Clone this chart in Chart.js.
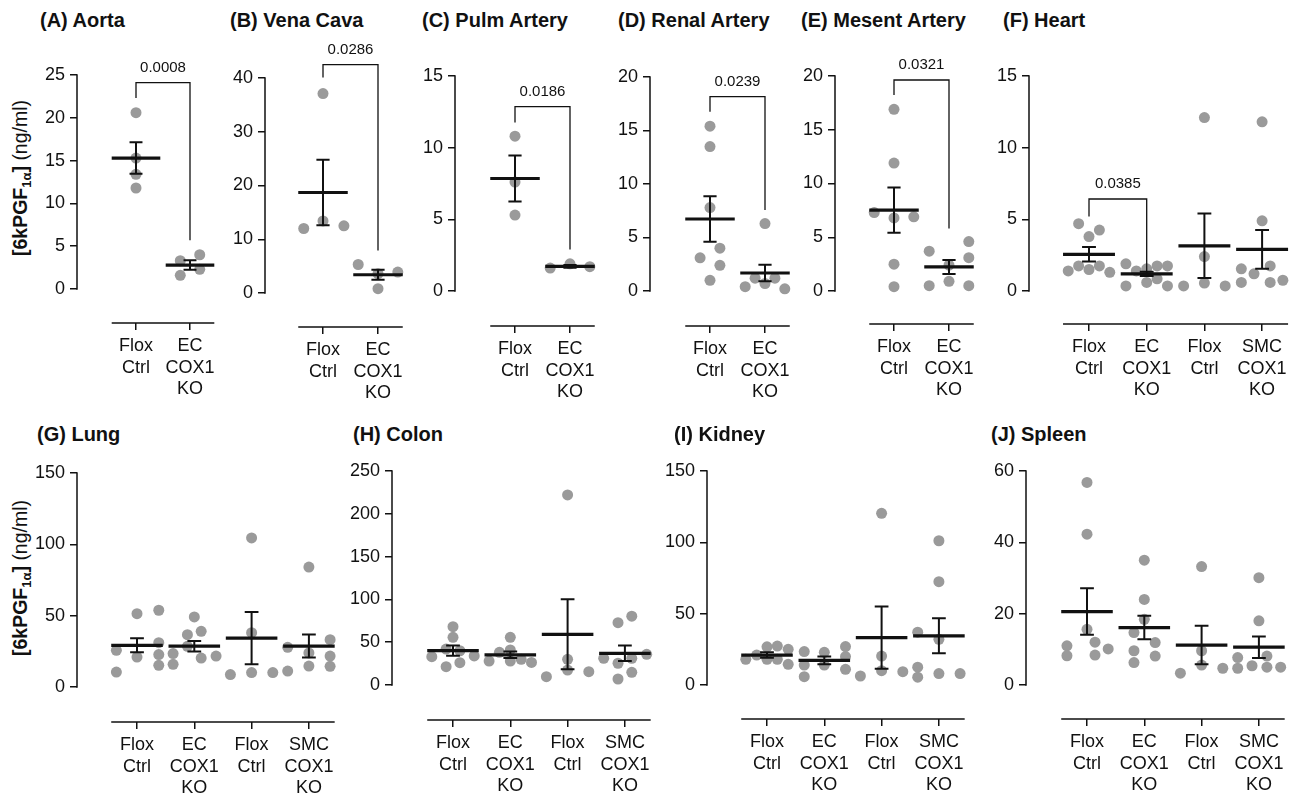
<!DOCTYPE html>
<html>
<head>
<meta charset="utf-8">
<script src="https://cdn.jsdelivr.net/npm/chart.js@4.4.0/dist/chart.umd.min.js"></script>
<style>
  body { margin: 0; width: 1294px; height: 796px; overflow: hidden; background: #fff; position: relative;
         font-family: "Liberation Sans", Arial, sans-serif; color: #111; }
  canvas { position: absolute; }
  .title { position: absolute; font-weight: bold; font-size: 20px; line-height: 1; white-space: nowrap; }
  .ylab { position: absolute; font-size: 19.5px; white-space: nowrap; line-height: 1;
          transform: translate(-50%, -50%) rotate(-90deg); }
  .ylab sub { font-size: 13px; vertical-align: -4px; }
</style>
</head>
<body>
<div class="ylab" style="left:22px;top:178px"><b>[6kPGF<sub>1α</sub>]</b> (ng/ml)</div>
<div class="ylab" style="left:22px;top:578px"><b>[6kPGF<sub>1α</sub>]</b> (ng/ml)</div>

<script>
// ---- group labels ----
const twoGroups = [["Flox", "Ctrl"], ["EC", "COX1", "KO"]];
const fourGroups = [["Flox", "Ctrl"], ["EC", "COX1", "KO"], ["Flox", "Ctrl"], ["SMC", "COX1", "KO"]];

// ---- (A) Aorta ----
const aortaValues = [[20.6, 15.3, 13.4, 11.8], [3.3, 4.0, 1.6, 2.3]];
const aortaJitter = [[0, 0, 0, 0], [-0.18, 0.18, -0.18, 0.18]];
const aortaMeans = [15.3, 2.8];
const aortaSems = [1.85, 0.55];
const aortaBracket = [0, 1, 24.1, 22.3, 5.7, "0.0008"];

// ---- (B) Vena Cava ----
const venaValues = [[37.1, 13.4, 12.0, 12.5], [5.3, 3.6, 0.8, 3.9]];
const venaJitter = [[0, 0, -0.35, 0.38], [-0.36, 0, 0, 0.36]];
const venaMeans = [18.7, 3.4];
const venaSems = [6.1, 0.93];
const venaBracket = [0, 1, 42.5, 40.1, 7.9, "0.0286"];

// ---- (C) Pulm Artery ----
const pulmValues = [[10.8, 7.6, 5.3], [1.6, 1.9, 1.7]];
const pulmJitter = [[0, 0, 0], [-0.36, 0, 0.36]];
const pulmMeans = [7.85, 1.72];
const pulmSems = [1.6, 0.1];
const pulmBracket = [0, 1, 12.86, 11.75, 2.9, "0.0186"];

// ---- (D) Renal Artery ----
const renalValues = [[15.4, 13.5, 7.8, 4.0, 3.1, 2.4, 1.0], [6.3, 0.4, 1.2, 0.7, 1.2, 0.2]];
const renalJitter = [[0, 0, 0, 0.18, -0.18, 0.18, 0], [0, -0.36, -0.18, 0, 0.18, 0.36]];
const renalMeans = [6.73, 1.68];
const renalSems = [2.13, 0.78];
const renalBracket = [0, 1, 18.16, 16.76, 7.57, "0.0239"];

// ---- (E) Mesent Artery ----
const mesValues = [[16.9, 11.9, 7.3, 6.8, 6.9, 2.5, 0.4], [3.7, 4.6, 3.1, 2.4, 0.5, 0.9, 0.5]];
const mesJitter = [[0, 0, -0.36, 0, 0.36, 0, 0], [-0.36, 0.36, 0.36, 0, -0.36, 0, 0.36]];
const mesMeans = [7.52, 2.24];
const mesSems = [2.1, 0.65];
const mesBracket = [0, 1, 19.63, 18.23, 5.81, "0.0321"];

// ---- (F) Heart ----
const heartValues = [
  [4.7, 4.25, 3.8, 1.4, 1.75, 1.5, 1.75, 1.3],
  [1.9, 1.4, 1.55, 1.75, 1.75, 0.35, 0.6, 0.85, 0.35],
  [12.1, 2.4, 0.35, 0.55, 0.35],
  [11.8, 4.9, 1.55, 1.75, 1.2, 0.6, 0.6, 0.75]
];
const heartJitter = [
  [-0.18, 0.18, 0, -0.36, -0.18, 0, 0.18, 0.36],
  [-0.36, -0.18, 0, 0.18, 0.36, -0.36, 0, 0.18, 0.36],
  [0, 0, -0.36, 0, 0.36],
  [0, 0, -0.36, 0.14, -0.14, -0.36, 0.14, 0.36]
];
const heartMeans = [2.56, 1.2, 3.15, 2.9];
const heartSems = [0.51, 0.15, 2.25, 1.35];
const heartBracket = [0, 1, 6.42, 5.19, 1.35, "0.0385"];

// ---- (G) Lung ----
const lungValues = [
  [25.7, 10.5, 51.4, 21.0, 53.8, 31.1, 22.7, 15.2],
  [23.4, 15.9, 49.1, 36.7, 39.0, 28.5, 20.3, 21.7],
  [104.5, 38.1, 8.7, 10.1, 10.1],
  [84.1, 27.8, 11.2, 23.9, 14.7, 33.2, 21.7, 14.5]
];
const lungJitter = [
  [-0.36, -0.36, 0, 0, 0.38, 0.38, 0.38, 0.38],
  [-0.37, -0.37, 0, -0.12, 0.12, -0.12, 0.12, 0.38],
  [0, 0, -0.37, 0, 0.37],
  [0, -0.37, -0.37, 0, 0, 0.37, 0.37, 0.37]
];
const lungMeans = [29.2, 28.6, 34.3, 28.7];
const lungSems = [4.9, 3.7, 18.3, 8.1];

// ---- (H) Colon ----
const colonValues = [
  [68.1, 55.7, 42, 40, 33.1, 21.4, 26.1, 33.9],
  [55.7, 28, 38.2, 41, 28, 30, 26.4],
  [222, 30, 17.5, 9.7, 15.5],
  [72.8, 80.4, 31.2, 25.4, 31.2, 35.9, 7, 14.8]
];
const colonJitter = [
  [0, 0, -0.12, 0.12, -0.37, -0.12, 0.12, 0.37],
  [0, -0.37, -0.19, 0, 0, 0.19, 0.37],
  [0, 0, 0, -0.37, 0.37],
  [-0.12, 0.12, -0.37, -0.12, 0.12, 0.38, -0.12, 0.12]
];
const colonMeans = [40.1, 35.3, 59.2, 37.0];
const colonSems = [5.9, 3.9, 40.9, 9.0];

// ---- (I) Kidney ----
const kidneyValues = [
  [18, 21, 26.8, 27.3, 25, 18, 18, 14.5],
  [23.4, 14, 5.8, 22.9, 14, 26.9, 19.9, 11],
  [120.3, 20.3, 10, 6.3, 9.3],
  [101.1, 72.4, 37, 32, 12.5, 5.5, 8, 8]
];
const kidneyJitter = [
  [-0.37, -0.18, 0, 0.18, 0.37, 0, 0.18, 0.37],
  [-0.35, -0.35, -0.35, 0, 0, 0.37, 0.37, 0.37],
  [0, 0, 0, -0.37, 0.37],
  [0, 0, -0.37, 0, -0.37, -0.37, 0, 0.37]
];
const kidneyMeans = [21.0, 17.2, 33.2, 34.5];
const kidneySems = [1.9, 2.7, 21.8, 12.2];

// ---- (J) Spleen ----
const spleenValues = [
  [56.8, 42.3, 15.6, 11, 8.2, 12, 8.4, 10.1],
  [35, 24, 18.4, 14.7, 11.9, 9.6, 6.3, 8.1],
  [33.2, 9.6, 5.6, 3.3, 4.7],
  [30.1, 18, 7.7, 8.1, 5.4, 4.7, 5, 5]
];
const spleenJitter = [
  [0, 0, 0, -0.35, -0.35, 0.14, 0.14, 0.37],
  [0, 0, 0, -0.18, 0.19, -0.18, -0.18, 0.19],
  [0, 0, 0, -0.37, 0.37],
  [0, 0, -0.37, 0.14, -0.12, -0.37, 0.14, 0.38]
];
const spleenMeans = [20.6, 16.1, 11.2, 10.6];
const spleenSems = [6.5, 3.3, 5.4, 3.0];

// ---- layout: pixel geometry of each panel (axis line x, pixel of max / zero, x-axis y, first category x, spacing) ----
const panels = [
  { title: "(A) Aorta", tx: 40, ty: 10, values: aortaValues, jitter: aortaJitter, means: aortaMeans, sems: aortaSems, bracket: aortaBracket, labels: twoGroups, ymax: 25, ystep: 5,
    geo: { top: 35, axisX: 77, yTop: 75, yZero: 289, xAxisY: 323, cat0: 136, step: 54 } },
  { title: "(B) Vena Cava", tx: 230, ty: 10, values: venaValues, jitter: venaJitter, means: venaMeans, sems: venaSems, bracket: venaBracket, labels: twoGroups, ymax: 40, ystep: 10,
    geo: { top: 35, axisX: 265, yTop: 78, yZero: 293, xAxisY: 327, cat0: 323, step: 55 } },
  { title: "(C) Pulm Artery", tx: 422, ty: 10, values: pulmValues, jitter: pulmJitter, means: pulmMeans, sems: pulmSems, bracket: pulmBracket, labels: twoGroups, ymax: 15, ystep: 5,
    geo: { top: 35, axisX: 455, yTop: 76, yZero: 291, xAxisY: 326, cat0: 515, step: 55 } },
  { title: "(D) Renal Artery", tx: 618, ty: 10, values: renalValues, jitter: renalJitter, means: renalMeans, sems: renalSems, bracket: renalBracket, labels: twoGroups, ymax: 20, ystep: 5,
    geo: { top: 35, axisX: 650, yTop: 77, yZero: 291, xAxisY: 326, cat0: 710, step: 55 } },
  { title: "(E) Mesent Artery", tx: 801, ty: 10, values: mesValues, jitter: mesJitter, means: mesMeans, sems: mesSems, bracket: mesBracket, labels: twoGroups, ymax: 20, ystep: 5,
    geo: { top: 35, axisX: 835, yTop: 76, yZero: 291, xAxisY: 324, cat0: 894, step: 55 } },
  { title: "(F) Heart", tx: 1003, ty: 10, values: heartValues, jitter: heartJitter, means: heartMeans, sems: heartSems, bracket: heartBracket, labels: fourGroups, ymax: 15, ystep: 5,
    geo: { top: 35, axisX: 1029, yTop: 76, yZero: 291, xAxisY: 324, cat0: 1089, step: 57.7 } },
  { title: "(G) Lung", tx: 37, ty: 423.5, values: lungValues, jitter: lungJitter, means: lungMeans, sems: lungSems, bracket: null, labels: fourGroups, ymax: 150, ystep: 50,
    geo: { top: 452, axisX: 77, yTop: 473, yZero: 687, xAxisY: 722, cat0: 137, step: 57.3 } },
  { title: "(H) Colon", tx: 353, ty: 423.5, values: colonValues, jitter: colonJitter, means: colonMeans, sems: colonSems, bracket: null, labels: fourGroups, ymax: 250, ystep: 50,
    geo: { top: 452, axisX: 392, yTop: 471, yZero: 685, xAxisY: 720, cat0: 453, step: 57.3 } },
  { title: "(I) Kidney", tx: 674, ty: 423.5, values: kidneyValues, jitter: kidneyJitter, means: kidneyMeans, sems: kidneySems, bracket: null, labels: fourGroups, ymax: 150, ystep: 50,
    geo: { top: 452, axisX: 707, yTop: 471, yZero: 685, xAxisY: 719, cat0: 767, step: 57.3 } },
  { title: "(J) Spleen", tx: 991, ty: 423.5, values: spleenValues, jitter: spleenJitter, means: spleenMeans, sems: spleenSems, bracket: null, labels: fourGroups, ymax: 60, ystep: 20,
    geo: { top: 452, axisX: 1026, yTop: 471, yZero: 685, xAxisY: 719, cat0: 1087, step: 57.3 } }
];

const FONT = "'Liberation Sans', Arial, sans-serif";
const INK = "#111";

// mean line, SEM bars, axis lines and the p-value bracket
function prismPlugin(p) {
    return {
        id: "prism",
        afterDatasetsDraw(chart) {
            const ctx = chart.ctx;
            const xs = chart.scales.x, ys = chart.scales.y, area = chart.chartArea;
            const n = p.labels.length;
            ctx.save();
            ctx.strokeStyle = INK;
            ctx.lineCap = "butt";

            // axis lines (Prism style: y axis only 0..max, x axis detached)
            ctx.lineWidth = 1.5;
            ctx.beginPath();
            ctx.moveTo(area.left, ys.getPixelForValue(0) + 0.75);
            ctx.lineTo(area.left, ys.getPixelForValue(p.ymax) - 0.75);
            ctx.moveTo(xs.getPixelForValue(-0.45), area.bottom);
            ctx.lineTo(xs.getPixelForValue(n - 1 + 0.45), area.bottom);
            ctx.stroke();

            p.means.forEach((m, i) => {
                const cx = xs.getPixelForValue(i);
                const my = ys.getPixelForValue(m);
                const hi = ys.getPixelForValue(m + p.sems[i]);
                const lo = ys.getPixelForValue(m - p.sems[i]);
                const cap = xs.getPixelForValue(i + 0.12) - cx;
                ctx.lineWidth = 2;
                ctx.beginPath();
                ctx.moveTo(cx, hi); ctx.lineTo(cx, lo);
                ctx.moveTo(cx - cap, hi); ctx.lineTo(cx + cap, hi);
                ctx.moveTo(cx - cap, lo); ctx.lineTo(cx + cap, lo);
                ctx.stroke();
                ctx.lineWidth = 3.2;
                ctx.beginPath();
                ctx.moveTo(xs.getPixelForValue(i - 0.45), my);
                ctx.lineTo(xs.getPixelForValue(i + 0.45), my);
                ctx.stroke();
            });

            if (p.bracket) {
                const [g1, g2, top, leftEnd, rightEnd, txt] = p.bracket;
                const x1 = xs.getPixelForValue(g1), x2 = xs.getPixelForValue(g2);
                const yt = ys.getPixelForValue(top);
                ctx.lineWidth = 1.3;
                ctx.beginPath();
                ctx.moveTo(x1, ys.getPixelForValue(leftEnd));
                ctx.lineTo(x1, yt);
                ctx.lineTo(x2, yt);
                ctx.lineTo(x2, ys.getPixelForValue(rightEnd));
                ctx.stroke();
                ctx.fillStyle = INK;
                ctx.font = "15px " + FONT;
                ctx.textAlign = "center";
                ctx.textBaseline = "alphabetic";
                ctx.fillText(txt, (x1 + x2) / 2, yt - 11);
            }
            ctx.restore();
        }
    };
}

function makePanel(p) {
    const g = p.geo;
    const axisW = 55, xH = 82, padR = 8;
    const n = p.labels.length;
    const padTop = g.yTop - g.top;
    const rightPix = g.cat0 + (n - 1 + 0.45) * g.step + 8;
    const width = Math.round(axisW + (rightPix - g.axisX) + padR);
    const height = Math.round(padTop + (g.xAxisY - g.yTop) + xH);

    const title = document.createElement("div");
    title.className = "title";
    title.textContent = p.title;
    title.style.left = p.tx + "px";
    title.style.top = p.ty + "px";
    document.body.appendChild(title);

    const canvas = document.createElement("canvas");
    canvas.width = width;
    canvas.height = height;
    canvas.style.left = (g.axisX - axisW) + "px";
    canvas.style.top = g.top + "px";
    document.body.appendChild(canvas);

    const yMin = -(g.xAxisY - g.yZero) / (g.yZero - g.yTop) * p.ymax;
    const xMin = (g.axisX - g.cat0) / g.step;
    const xMax = (xMin * g.step + (width - axisW - padR)) / g.step;

    const points = [];
    p.values.forEach((group, i) => {
        group.forEach((v, j) => points.push({ x: i + p.jitter[i][j], y: v }));
    });

    const yTicks = [];
    for (let v = 0; v <= p.ymax + 1e-9; v += p.ystep) yTicks.push(v);

    new Chart(canvas.getContext("2d"), {
        type: "scatter",
        data: {
            datasets: [{
                data: points,
                backgroundColor: "#9a9a9a",
                borderWidth: 0,
                pointRadius: 5.5,
                pointHoverRadius: 5.5
            }]
        },
        options: {
            responsive: false,
            animation: false,
            events: [],
            layout: { padding: { top: padTop, right: padR, left: 0, bottom: 0 } },
            plugins: { legend: { display: false }, tooltip: { enabled: false } },
            scales: {
                x: {
                    type: "linear",
                    min: xMin,
                    max: xMax,
                    bounds: "data",
                    afterBuildTicks: (s) => { s.ticks = p.labels.map((_, i) => ({ value: i })); },
                    afterFit: (s) => { s.height = xH; },
                    border: { display: false },
                    grid: { drawOnChartArea: false, drawTicks: true, tickLength: 7, color: INK, lineWidth: 1.5 },
                    ticks: {
                        callback: (v) => p.labels[v],
                        color: INK,
                        font: { family: FONT, size: 18, lineHeight: 1.17 },
                        padding: 6,
                        maxRotation: 0,
                        autoSkip: false
                    }
                },
                y: {
                    min: yMin,
                    max: p.ymax,
                    bounds: "data",
                    afterBuildTicks: (s) => { s.ticks = yTicks.map(v => ({ value: v })); },
                    afterFit: (s) => { s.width = axisW; },
                    border: { display: false },
                    grid: { drawOnChartArea: false, drawTicks: true, tickLength: 7, color: INK, lineWidth: 1.5 },
                    ticks: { color: INK, font: { family: FONT, size: 18 }, padding: 5 }
                }
            }
        },
        plugins: [prismPlugin(p)]
    });
}

panels.forEach(makePanel);
</script>
</body>
</html>
